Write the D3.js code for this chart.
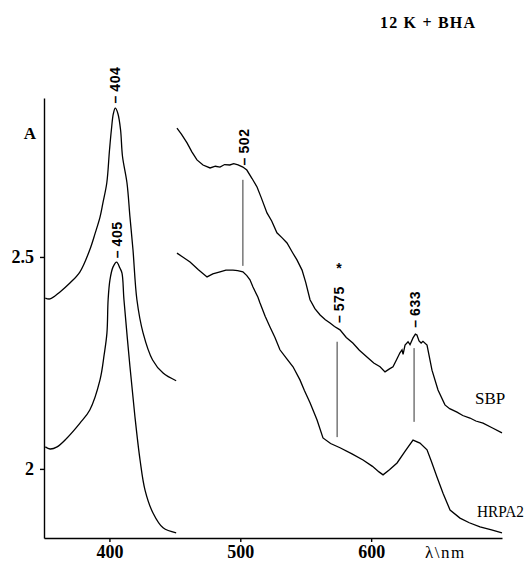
<!DOCTYPE html>
<html>
<head>
<meta charset="utf-8">
<script src="https://cdn.jsdelivr.net/npm/d3@7"></script>
<style>
body{margin:0;background:#fff}
.curve{fill:none;stroke:#000;stroke-width:1.3}
.marker{stroke:#333;stroke-width:1}
.axis path,.axis line{stroke:#000;stroke-width:1.4}
.axis text{font-family:"Liberation Serif",serif;font-weight:bold;font-size:18px;fill:#000}
.peak{font-family:"Liberation Sans",sans-serif;font-weight:bold;font-size:14px}
.name{font-family:"Liberation Serif",serif;font-size:17px}
</style>
</head>
<body>
<svg id="chart" width="529" height="565"></svg>
<script>
'use strict';

// [nm, A], as plotted
var sbpSoret=[[351,2.403],[354.6,2.401],[362,2.417],[370,2.439],[377.5,2.465],[385,2.517]
  ,[389,2.555],[392.8,2.594],[395,2.627],[398,2.675],[400,2.75],[401.5,2.80],[403,2.838]
  ,[404.5,2.851],[406.5,2.838],[408.5,2.80],[410,2.737],[413.4,2.675],[415.7,2.594]
  ,[418,2.517],[421,2.399],[425.7,2.321],[433,2.257],[441,2.226],[451,2.208]];

var hrpSoret=[[351,2.052],[354.6,2.047],[360,2.052],[367.6,2.073],[377.5,2.108],[385,2.139]
  ,[392.8,2.210],[396,2.27],[398.1,2.321],[399,2.399],[400.4,2.446],[402.7,2.476]
  ,[405.5,2.488],[408,2.474],[409.6,2.462],[411.1,2.399],[415.7,2.241],[419.5,2.123]
  ,[423.4,2.021],[427.2,1.950],[433.3,1.896],[441,1.861],[451,1.849]];

var sbpVis=[[451.6,2.804],[455,2.79],[459.3,2.769],[463,2.748],[466.9,2.729],[471.5,2.717]
  ,[476.9,2.710],[481,2.714],[484.5,2.712],[488,2.718],[492,2.717],[495,2.720],[498.3,2.717]
  ,[502,2.712],[505,2.705],[509,2.685],[512.8,2.665],[516,2.64],[520.4,2.604],[524,2.585]
  ,[528,2.557],[532,2.545],[535.7,2.533],[540,2.51],[543.3,2.493],[547.2,2.469],[550,2.44]
  ,[553.3,2.399],[557,2.378],[561,2.363],[565,2.352],[568.6,2.344],[572,2.336],[576.2,2.328]
  ,[581,2.31],[586,2.297],[591,2.28],[596.8,2.264],[602,2.25],[606.8,2.241],[610.6,2.229]
  ,[614,2.236],[616.7,2.241],[619.5,2.258],[622,2.274],[623.6,2.281],[624.4,2.270],[625.9,2.292]
  ,[628.2,2.300],[629.7,2.293],[632,2.309],[633.8,2.318],[635,2.316],[636.6,2.302],[638.2,2.297]
  ,[639.6,2.301],[642.7,2.292],[646.5,2.233],[651.1,2.186],[656.4,2.151],[660,2.142]
  ,[665.6,2.134],[670,2.126],[675.5,2.120],[680,2.113],[685.5,2.108],[692.4,2.097],[700,2.085]];

var hrpVis=[[451.6,2.509],[456,2.50],[461.6,2.488],[468,2.47],[474.6,2.453],[479,2.460]
  ,[484.5,2.465],[489,2.469],[494.4,2.469],[498,2.468],[502,2.465],[505,2.456],[507.4,2.446]
  ,[509.7,2.429],[513.5,2.405],[515,2.392],[519,2.36],[522.7,2.335],[526.5,2.31],[530.3,2.281]
  ,[535,2.262],[540.3,2.241],[545.6,2.210],[549,2.185],[553.3,2.156],[558.6,2.116]
  ,[563.2,2.073],[569,2.060],[576.2,2.050],[585,2.036],[593.8,2.021],[601,2.006],[606,1.993]
  ,[609.1,1.986],[614,1.998],[619.8,2.014],[626,2.042],[632,2.068],[637.3,2.061],[642.7,2.045]
  ,[646,2.018],[650.3,1.981],[655,1.942],[660.3,1.903],[667.9,1.884],[675,1.873]
  ,[683.2,1.863],[692,1.856],[700,1.849]];

var xTicks=[400,500,600];
var yTicks=[2,2.5];
var yTickLabels=['2','2.5'];

var peakLabels=[
    {text:'404',nm:404.6,a:2.862}
  , {text:'405',nm:406,a:2.497}
  , {text:'502',nm:502.8,a:2.716}
  , {text:'575',nm:575.4,a:2.344}
  , {text:'633',nm:633.5,a:2.333}
];

// vertical marks joining the two traces
var markerLines=[
    {nm:502,a0:2.682,a1:2.479}
  , {nm:574,a0:2.300,a1:2.075}
  , {nm:632.8,a0:2.285,a1:2.111}
];

var svg=d3.select('#chart');

var x=d3.scaleLinear().domain([350,700]).range([44,502]);
var y=d3.scaleLinear().domain([1.837,2.875]).range([538,98]);

svg.append('g')
    .attr('class','axis')
    .attr('transform','translate(0,538)')
    .call(d3.axisBottom(x).tickValues(xTicks).tickSize(4).tickPadding(3).tickSizeOuter(0).tickFormat(d3.format('d')));

svg.append('g')
    .attr('class','axis')
    .attr('transform','translate(44,0)')
    .call(d3.axisLeft(y).tickValues(yTicks).tickSize(4).tickPadding(6).tickSizeOuter(0)
        .tickFormat(function(d,i){return yTickLabels[i];}));

var smooth=d3.line()
    .x(function(d){return x(d[0]);})
    .y(function(d){return y(d[1]);})
    .curve(d3.curveCatmullRom.alpha(0.5));

var rough=d3.line()
    .x(function(d){return x(d[0]);})
    .y(function(d){return y(d[1]);});

[sbpSoret,hrpSoret].forEach(function(s){
    svg.append('path').attr('class','curve').attr('d',smooth(s));
});
[sbpVis,hrpVis].forEach(function(s){
    svg.append('path').attr('class','curve').attr('d',rough(s));
});

svg.selectAll('.marker')
    .data(markerLines)
  .enter().append('line')
    .attr('class','marker')
    .attr('x1',function(d){return x(d.nm);})
    .attr('x2',function(d){return x(d.nm);})
    .attr('y1',function(d){return y(d.a0);})
    .attr('y2',function(d){return y(d.a1);});

svg.selectAll('.peak')
    .data(peakLabels)
  .enter().append('text')
    .attr('class','peak')
    .attr('transform',function(d){return 'translate('+x(d.nm)+','+y(d.a)+') rotate(-90)';})
    .attr('dy','0.36em')
    .style('letter-spacing','0.6px')
    .text(function(d){return '\u2013\u2009'+d.text;});

svg.append('text')
    .attr('class','peak')
    .attr('x',x(575.4))
    .attr('y',y(2.462))
    .attr('text-anchor','middle')
    .text('*');

svg.append('text')
    .attr('class','name')
    .attr('x',x(679.4))
    .attr('y',y(2.153))
    .text('SBP');

svg.append('text')
    .attr('class','name')
    .attr('x',x(680.9))
    .attr('y',y(1.887))
    .attr('textLength',47)
    .attr('lengthAdjust','spacingAndGlyphs')
    .text('HRPA2');

svg.append('text')
    .attr('x',30)
    .attr('y',139)
    .attr('text-anchor','middle')
    .style('font-family','"Liberation Serif",serif')
    .style('font-weight','bold')
    .style('font-size','17px')
    .text('A');

svg.append('text')
    .attr('x',380)
    .attr('y',28)
    .style('font-family','"Liberation Serif",serif')
    .style('font-weight','bold')
    .style('font-size','16px')
    .style('letter-spacing','1.2px')
    .text('12 K + BHA');

svg.append('text')
    .attr('x',425)
    .attr('y',558)
    .style('font-family','"Liberation Serif",serif')
    .style('font-size','17px')
    .style('letter-spacing','1.5px')
    .text('\u03bb\\nm');
</script>
</body>
</html>
